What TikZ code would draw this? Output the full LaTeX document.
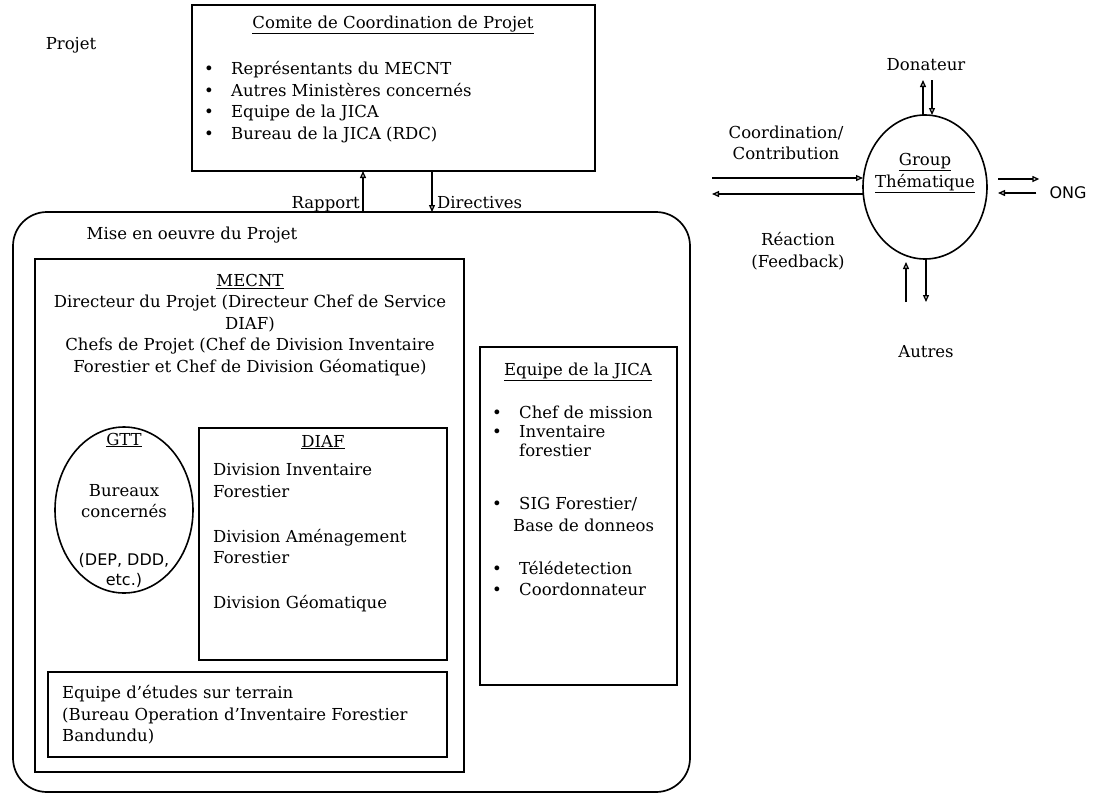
\documentclass[tikz,border=0pt]{standalone}
\usepackage{fontspec}
\setmainfont{DejaVu Serif}
\newfontfamily\sansfont{DejaVu Sans}
\usetikzlibrary{arrows.meta,shapes.geometric}

\tikzset{
  frame/.style={draw, line width=1.7pt, inner sep=0pt, outer sep=0pt, anchor=north west},
  oval/.style={draw, ellipse, line width=1.6pt, inner sep=0pt, outer sep=0pt},
  txt/.style={font=\fontsize{16.5}{21.5}\selectfont, inner sep=0pt},
  arr/.style={line width=1.3pt, -{Triangle[open, length=7pt, width=6pt]}},
}
\newcommand{\bul}{\makebox[27pt][l]{•}}

\begin{document}
\begin{tikzpicture}[x=1pt, y=-1pt]
  \useasboundingbox (0,0) rectangle (1101,796);

  % frames
  \node[frame, minimum width=403pt, minimum height=166pt] (comite) at (192,5) {};
  \node[frame, rounded corners=34pt, minimum width=677pt, minimum height=580pt] (mise) at (13,212) {};
  \node[frame, minimum width=429pt, minimum height=513pt] (mecnt) at (35,259) {};
  \node[frame, minimum width=248pt, minimum height=232pt] (diaf) at (199,428) {};
  \node[frame, minimum width=399pt, minimum height=85pt] (terrain) at (48,672) {};
  \node[frame, minimum width=197pt, minimum height=338pt] (jica) at (480,347) {};
  \node[oval, minimum width=138pt, minimum height=166pt] (gtt) at (124,510) {};
  \node[oval, minimum width=124pt, minimum height=144pt] (grp) at (925,187) {};

  % texts
  \node[txt] (projet) at (71,45) {Projet};
  \node[txt] (comtitle) at (393,25) {\underline{Comite de Coordination de Projet}};
  \node[txt, align=left, anchor=west] (comlist) at (204,102) {\bul Représentants du MECNT\\ \bul Autres Ministères concernés\\ \bul Equipe de la JICA\\ \bul Bureau de la JICA (RDC)};
  \node[txt] (misetitle) at (192,235) {Mise en oeuvre du Projet};
  \node[txt, align=center] (mecnttxt) at (250,325) {\underline{MECNT}\\ Directeur du Projet (Directeur Chef de Service\\ DIAF)\\ Chefs de Projet (Chef de Division Inventaire\\ Forestier et Chef de Division Géomatique)};
  \node[txt] (gtttitle) at (124,440) {\underline{GTT}};
  \node[txt, align=center] (gtttxt) at (124,501) {Bureaux\\ concernés};
  \node[txt, align=center, font=\fontsize{16}{20}\sansfont] (gttsub) at (124,570) {(DEP, DDD,\\ etc.)};
  \node[txt] (diaftitle) at (323,442) {\underline{DIAF}};
  \node[txt, align=left, anchor=west] (diaftxt) at (213,538) {Division Inventaire\\ Forestier\\[23.5pt] Division Aménagement\\ Forestier\\[23.5pt] Division Géomatique};
  \node[txt, align=left, anchor=west] (terraintxt) at (62,715) {Equipe d'études sur terrain\\ (Bureau Operation d'Inventaire Forestier\\ Bandundu)};
  \node[txt] (jicatitle) at (578,372) {\underline{Equipe de la JICA}};
  \node[txt, align=left, anchor=west] (jicatxt) at (492,501) {\bul Chef de mission\\[-2.5pt] \bul Inventaire\\[-2.5pt] \hspace*{27pt}forestier\\[31.5pt] \bul SIG Forestier/\\ \hspace*{21pt}Base de donneos\\[21.5pt] \bul Télédetection\\ \bul Coordonnateur};

  % links
  \coordinate (rap) at (363,0);
  \coordinate (dir) at (432,0);
  \draw[arr] (rap |- mise.north) -- (rap |- comite.south);
  \draw[arr] (dir |- comite.south) -- (dir |- mise.north);
  \node[txt, anchor=base east] (raplbl) at (360,208) {Rapport};
  \node[txt, anchor=base west] (dirlbl) at (437,208) {Directives};

  % groupe thematique
  \node[txt, align=center] (grptxt) at (925,173) {\underline{Group}\\ \underline{Thématique}};
  \node[txt] (donateur) at (926,65) {Donateur};
  \node[txt] (autres) at (926,352) {Autres};
  \node[txt, font=\fontsize{16}{20}\sansfont] (ong) at (1068,193) {ONG};
  \node[txt, align=center] (coordlbl) at (786,143) {Coordination/\\ Contribution};
  \node[txt, align=center] (reaclbl) at (798,251) {Réaction\\ (Feedback)};

  \coordinate (cin) at (712,178);
  \coordinate (cout) at (712,194);
  \draw[arr] (cin) -- (cin -| grp.west);
  \draw[arr] (cout -| grp.west) -- (cout);
  \coordinate (donup) at (923,80);
  \coordinate (dondn) at (932,80);
  \draw[arr] (donup |- grp.north) -- (donup);
  \draw[arr] (dondn) -- (dondn |- grp.north);
  \coordinate (autup) at (906,302);
  \coordinate (autdn) at (926,302);
  \draw[arr] (autup) -- ([yshift=-3pt]autup |- grp.south);
  \draw[arr] (autdn |- grp.south) -- (autdn);
  \coordinate (ongout) at (998,179);
  \coordinate (ongin) at (998,193);
  \draw[arr] (ongout) -- ([xshift=-10pt]ongout -| ong.west);
  \draw[arr] ([xshift=-13pt]ongin -| ong.west) -- (ongin);
\end{tikzpicture}
\end{document}
